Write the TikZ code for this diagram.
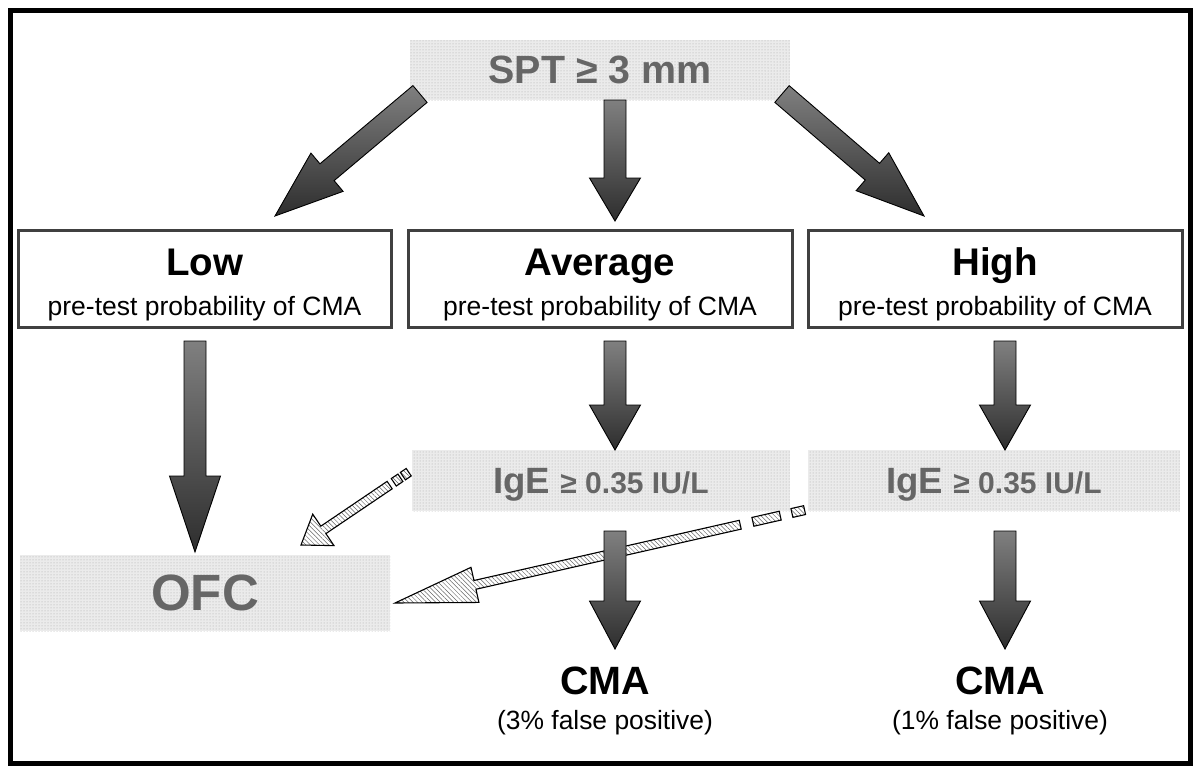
\documentclass[tikz,border=0pt]{standalone}
\usepackage{fontspec}
\setmainfont{Liberation Sans}
\usepackage{xcolor}
\usetikzlibrary{calc,positioning,patterns.meta}

\definecolor{txtgray}{gray}{0.40}

% block arrow: [style]{tail}{tip}{half shaft}{half head}{head length}
\newcommand{\blockarrow}[6][]{%
  \coordinate (ba-h) at ($#3!#6!#2$);
  \path[#1] ($#2!#4!90:#3$) -- ($(ba-h)!#4!90:#3$) -- ($(ba-h)!#5!90:#3$) -- #3
    -- ($(ba-h)!#5!-90:#3$) -- ($(ba-h)!#4!-90:#3$) -- ($#2!#4!-90:#3$) -- cycle;
}
% piece of a broken shaft: [style]{tip}{tail}{from}{to}
\newcommand{\shaftpiece}[5][]{%
  \coordinate (sp-a) at ($#2!#4!#3$);
  \coordinate (sp-b) at ($#2!#5!#3$);
  \path[#1] ($(sp-a)!4.5pt!90:(sp-b)$) -- ($(sp-b)!4.5pt!-90:(sp-a)$)
    -- ($(sp-b)!4.5pt!90:(sp-a)$) -- ($(sp-a)!4.5pt!-90:(sp-b)$) -- cycle;
}

\begin{document}
\begin{tikzpicture}[x=1pt,y=-1pt,
  dotbox/.style={preaction={fill=black!8},pattern={Dots[radius=0.5pt,distance=3pt]},
    pattern color=black!35,text=txtgray,font=\bfseries,inner sep=0pt,outer sep=0pt,text depth=0pt},
  probbox/.style={draw=black!75,line width=3pt,minimum height=97pt,align=center,
    inner sep=0pt,outer sep=0pt,font=\fontsize{26.5}{40}\selectfont},
  grayarr/.style={draw=black,line width=0.9pt,top color=black!50,bottom color=black!82},
  hatcharr/.style={draw=black,line width=1.1pt,preaction={fill=white},
    pattern={Lines[angle=-45,distance=3.2pt,line width=0.5pt]},pattern color=black!60},
  result/.style={inner sep=0pt,outer sep=0pt}
]
\useasboundingbox (0,0) rectangle (1200,782);
\draw[line width=5pt] (10,10) rectangle (1190,763);

% nodes
\node[dotbox,minimum width=380pt,minimum height=60pt,font=\fontsize{39.4}{44}\selectfont\bfseries] (spt) at (600,70) {SPT ≥ 3 mm};
\node[probbox,minimum width=373pt] (low) at (204.5,278.5) {{\fontsize{38.5}{39}\selectfont\bfseries\rule{0pt}{39pt}Low}\\pre-test probability of CMA};
\node[probbox,minimum width=384pt] (avg) at (600,278.5) {{\fontsize{38.5}{39}\selectfont\bfseries\rule{0pt}{39pt}Average}\\pre-test probability of CMA};
\node[probbox,minimum width=374pt] (high) at (995,278.5) {{\fontsize{38.5}{39}\selectfont\bfseries\rule{0pt}{39pt}High}\\pre-test probability of CMA};
\node[dotbox,minimum width=378pt,minimum height=61pt] (ige1) at (601,480.5) {{\fontsize{36.6}{40}\selectfont IgE }{\fontsize{30}{34}\selectfont ≥ 0.35 IU/L}};
\node[dotbox,minimum width=372pt,minimum height=61pt] (ige2) at (994,480.5) {{\fontsize{36.6}{40}\selectfont IgE }{\fontsize{30}{34}\selectfont ≥ 0.35 IU/L}};
\node[dotbox,minimum width=370pt,minimum height=76pt,font=\fontsize{51}{56}\selectfont\bfseries] (ofc) at (205,593) {OFC};
\node[result,font=\fontsize{39.5}{44}\selectfont\bfseries] (cma1) at (605,681) {CMA};
\node[result,font=\fontsize{26.4}{30}\selectfont,below=15pt of cma1] (fp1) {(3\% false positive)};
\node[result,font=\fontsize{39.5}{44}\selectfont\bfseries] (cma2) at (1000,681) {CMA};
\node[result,font=\fontsize{26.4}{30}\selectfont,below=15pt of cma2] (fp2) {(1\% false positive)};

% hatched arrows to OFC
\coordinate (h1tail) at ($(ige1.west)+(-3,-8.5)$);
\coordinate (h1tip) at ($(ofc.north)+(96,-10)$);
\coordinate (h1s) at ($(h1tip)!107pt!(h1tail)$);
\blockarrow[hatcharr]{(h1s)}{(h1tip)}{4.5pt}{19pt}{27pt}
\shaftpiece[hatcharr]{(h1tip)}{(h1tail)}{112pt}{120pt}
\shaftpiece[hatcharr]{(h1tip)}{(h1tail)}{123pt}{130pt}

\coordinate (h2tail) at ($(ige2.west)+(-3,29.5)$);
\coordinate (h2tip) at ($(ofc.east)+(5,10)$);
\coordinate (h2s) at ($(h2tip)!354pt!(h2tail)$);
\blockarrow[hatcharr]{(h2s)}{(h2tip)}{4.5pt}{18pt}{82pt}
\shaftpiece[hatcharr]{(h2tip)}{(h2tail)}{367pt}{395pt}
\shaftpiece[hatcharr]{(h2tip)}{(h2tail)}{407pt}{420pt}

% gray arrows
\blockarrow[grayarr]{($(spt.south west)+(10,-6)$)}{($(low.north)+(70.5,-14)$)}{11pt}{25pt}{68pt}
\blockarrow[grayarr]{($(spt.south)+(15,0)$)}{($(avg.north)+(15,-9)$)}{11pt}{25.5pt}{43pt}
\blockarrow[grayarr]{($(spt.south east)+(-8,-6)$)}{($(high.north)+(-71,-14)$)}{11pt}{25pt}{68pt}
\blockarrow[grayarr]{($(low.south)+(-9.5,14)$)}{($(ofc.north)+(-10,-3)$)}{11pt}{25.5pt}{76pt}
\blockarrow[grayarr]{($(avg.south)+(15,14)$)}{($(ige1.north)+(14,0)$)}{11pt}{25.5pt}{45pt}
\blockarrow[grayarr]{($(high.south)+(10,14)$)}{($(ige2.north)+(11,0)$)}{11pt}{25.5pt}{45pt}
\blockarrow[grayarr]{($(ige1.south)+(14,20)$)}{($(cma1.north)+(10,-18)$)}{11pt}{25.5pt}{48pt}
\blockarrow[grayarr]{($(ige2.south)+(11,20)$)}{($(cma2.north)+(5,-18)$)}{11pt}{25.5pt}{48pt}
\end{tikzpicture}
\end{document}
